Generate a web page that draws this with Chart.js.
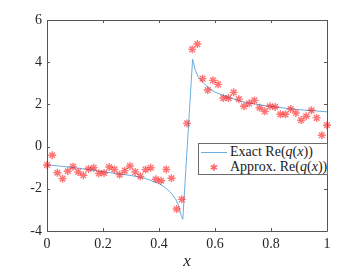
<!DOCTYPE html>
<html>
<head>
<meta charset="utf-8">
<script src="https://cdn.jsdelivr.net/npm/chart.js@4/dist/chart.umd.min.js"></script>
<style>
  html,body{margin:0;padding:0;background:#fff;}
  #wrap{position:relative;width:362px;height:272px;}
  #leg{position:absolute;left:198px;top:143px;width:130px;height:32px;border:1px solid #6b6b6b;background:#fff;
       font-family:'Liberation Serif',serif;font-size:14px;color:#1a1a1a;box-sizing:border-box;}
  #leg .row{position:absolute;left:0;white-space:nowrap;line-height:15px;}
  #leg i{font-style:italic;}
</style>
</head>
<body>
<div id="wrap">
<canvas id="c" width="362" height="272"></canvas>
<div id="leg">
  <div class="row" style="top:0px;"><span style="display:inline-block;width:26px;height:0;border-top:1px solid #6aaee0;vertical-align:middle;margin:0 3px 0 2px;"></span>Exact Re(<i>q</i>(<i>x</i>))</div>
  <div class="row" style="top:15px;"><span style="display:inline-block;width:26px;text-align:center;color:rgba(255,0,0,0.6);margin:0 3px 0 2px;font-family:'DejaVu Sans';font-size:10px;">✱</span>Approx. Re(<i>q</i>(<i>x</i>))</div>
</div>
</div>
<script>
// ---- data ----
const approxX = [];
const approxY = [-0.87,-0.41,-1.24,-1.52,-1.17,-0.95,-1.20,-1.36,-1.06,-1.00,
                 -1.27,-1.25,-0.97,-1.08,-1.33,-1.14,-0.92,-1.20,-1.41,-1.09,
                 -1.00,-1.55,-1.62,-1.08,-1.50,-2.96,-2.50,1.10,4.61,4.86,
                 3.22,2.68,3.14,2.95,2.30,2.30,2.57,2.25,1.91,2.05,
                 2.19,1.84,1.67,1.91,1.88,1.53,1.53,1.78,1.59,1.25,
                 1.44,1.72,1.36,0.54,1.01];
for (let i = 0; i < approxY.length; i++) approxX.push(i / 54);

const exactX = [0,0.05,0.1,0.15,0.2,0.25,0.3,0.35,0.4,0.42,0.44,0.46,0.47,0.48,0.485,
                0.52,0.53,0.54,0.56,0.58,0.6,0.65,0.7,0.75,0.8,0.85,0.9,0.95,1.0];
const exactY = [-0.87,-0.93,-1.0,-1.09,-1.19,-1.28,-1.37,-1.5,-1.75,-1.92,-2.15,-2.5,-2.8,-3.3,-3.45,
                4.15,3.6,3.3,3.0,2.75,2.58,2.32,2.12,2.0,1.9,1.82,1.75,1.7,1.65];

const xTickValues = [0,0.2,0.4,0.6,0.8,1];
const xTickLabels = ['0','0.2','0.4','0.6','0.8','1'];
const yTickValues = [-4,-2,0,2,4,6];
const yTickLabels = ['-4','-2','0','2','4','6'];

const toPts = (xs, ys) => xs.map((x, i) => ({x: x, y: ys[i]}));

const axisColor = '#555';
const boxPlugin = {
  id: 'box',
  afterDraw(chart) {
    const {ctx, chartArea: a, scales} = chart;
    ctx.save();
    ctx.strokeStyle = axisColor;
    ctx.lineWidth = 1;
    ctx.beginPath();
    ctx.rect(Math.round(a.left) + 0.5, Math.round(a.top) + 0.5, Math.round(a.right - a.left), Math.round(a.bottom - a.top));
    ctx.stroke();
    const tl = 3;
    ctx.beginPath();
    scales.x.ticks.forEach(t => {
      const px = Math.round(scales.x.getPixelForValue(t.value)) + 0.5;
      ctx.moveTo(px, a.bottom); ctx.lineTo(px, a.bottom - tl);
      ctx.moveTo(px, a.top); ctx.lineTo(px, a.top + tl);
    });
    scales.y.ticks.forEach(t => {
      const py = Math.round(scales.y.getPixelForValue(t.value)) + 0.5;
      ctx.moveTo(a.left, py); ctx.lineTo(a.left + tl, py);
      ctx.moveTo(a.right, py); ctx.lineTo(a.right - tl, py);
    });
    ctx.stroke();
    ctx.restore();
  }
};

const tickFont = {family: "Liberation Serif", size: 14};

new Chart(document.getElementById('c'), {
  type: 'scatter',
  data: {
    datasets: [
      {
        label: 'Approx',
        data: toPts(approxX, approxY),
        pointStyle: 'star',
        pointRadius: 4,
        borderColor: 'rgba(255,0,0,0.55)',
        backgroundColor: 'rgba(255,0,0,0.55)',
        pointBorderWidth: 1.4,
        showLine: false,
        clip: false,
        order: 0
      },
      {
        label: 'Exact',
        data: toPts(exactX, exactY),
        showLine: true,
        borderColor: '#6aaee0',
        borderWidth: 1,
        pointRadius: 0,
        tension: 0,
        order: 1
      }
    ]
  },
  options: {
    responsive: false,
    devicePixelRatio: 1,
    animation: false,
    layout: {padding: {top: 20, right: 35, left: 0, bottom: 0}},
    plugins: {legend: {display: false}, tooltip: {enabled: false}},
    scales: {
      x: {
        type: 'linear', min: 0, max: 1,
        afterBuildTicks: s => { s.ticks = xTickValues.map(v => ({value: v})); },
        afterFit: s => { s.height = 41; },
        grid: {display: false, drawTicks: false},
        border: {display: false},
        ticks: {
          font: tickFont, color: '#262626', padding: 5, maxRotation: 0,
          callback: (v) => xTickLabels[xTickValues.indexOf(v)]
        },
        title: {display: true, text: 'x', color: '#262626',
                font: {family: "Liberation Serif", size: 17, style: 'italic'},
                padding: {top: 0, bottom: 0}}
      },
      y: {
        type: 'linear', min: -4, max: 6,
        afterBuildTicks: s => { s.ticks = yTickValues.map(v => ({value: v})); },
        afterFit: s => { s.width = 47; },
        grid: {display: false, drawTicks: false},
        border: {display: false},
        ticks: {
          font: tickFont, color: '#262626', padding: 5,
          callback: (v) => yTickLabels[yTickValues.indexOf(v)]
        }
      }
    }
  },
  plugins: [boxPlugin]
});
</script>
</body>
</html>
